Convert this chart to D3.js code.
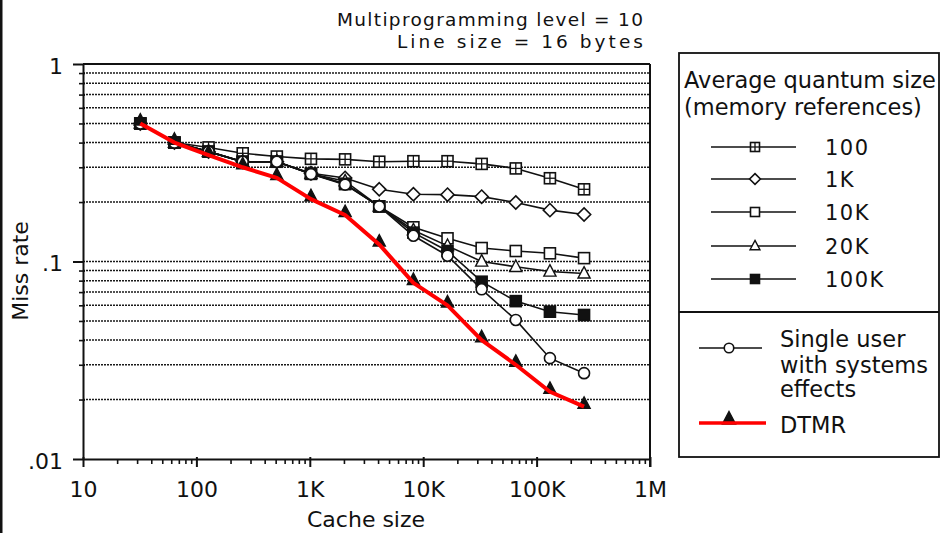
<!DOCTYPE html>
<html><head><meta charset="utf-8">
<script src="https://cdn.jsdelivr.net/npm/d3@7/dist/d3.min.js"></script>
<style>
html,body{margin:0;padding:0;background:#fff;}
svg{display:block;}
text{font-family:"DejaVu Sans",sans-serif;fill:#111;}
</style></head><body>
<svg id="chart" width="941" height="533"></svg>
<script>
// ---------- data ----------
const cacheSizes = [32,64,128,256,512,1024,2048,4096,8192,16384,32768,65536,131072,262144];
const quantum100  = [0.50,0.40,0.378,0.353,0.340,0.331,0.329,0.320,0.322,0.322,0.312,0.296,0.264,0.232];
const quantum1K   = [0.50,0.40,0.36,0.32,0.32,0.28,0.265,0.232,0.219,0.218,0.213,0.199,0.182,0.173];
const quantum10K  = [0.50,0.40,0.36,0.32,0.32,0.278,0.247,0.19,0.149,0.131,0.117,0.113,0.110,0.104];
const quantum20K  = [0.50,0.40,0.36,0.32,0.32,0.278,0.255,0.19,0.144,0.12,0.100,0.094,0.089,0.087];
const quantum100K = [0.50,0.40,0.36,0.32,0.32,0.278,0.247,0.19,0.14,0.113,0.079,0.063,0.0557,0.0536];
const singleUser  = [0.50,0.40,0.36,0.32,0.32,0.277,0.245,0.19,0.135,0.107,0.0723,0.0506,0.0324,0.0272];
const dtmr        = [0.50,0.40,0.346,0.30,0.265,0.207,0.172,0.122,0.078,0.060,0.040,0.030,0.0219,0.0184];

const xTickValues = [10,100,1000,10000,100000,1000000];
const xTickLabels = ["10","100","1K","10K","100K","1M"];
const yTickValues = [0.01,0.1,1];
const yTickLabels = [".01",".1","1"];
const titleLines = ["Multiprogramming level = 10","Line size = 16 bytes"];
const legendTitleLines = ["Average quantum size","(memory references)"];
const quantumNames = ["100","1K","10K","20K","100K"];
const singleUserLabel = ["Single user","with systems","effects"];
const dtmrLabel = "DTMR";
const xAxisTitle = "Cache size";
const yAxisTitle = "Miss rate";

// ---------- setup ----------
const svg = d3.select("#chart");
svg.append("rect").attr("width",941).attr("height",533).attr("fill","#fff");
svg.append("rect").attr("x",0).attr("y",0).attr("width",2.5).attr("height",533).attr("fill","#111");

const L = 83, R = 650, T = 64, B = 459;
const x = d3.scaleLog().domain([10,1e6]).range([L,R]);
const y = d3.scaleLog().domain([0.01,1]).range([B,T]);

// minor values
const minorX = [];
[10,100,1000,10000,100000].forEach(d=>{for(let k=2;k<=9;k++) minorX.push(k*d);});
const minorY = [];
[0.01,0.1].forEach(d=>{for(let k=2;k<=9;k++) minorY.push(+(k*d).toPrecision(3));});
const gridY = minorY.concat([0.1]);

// gridlines
svg.append("g").selectAll("line").data(gridY).join("line")
  .attr("x1",L).attr("x2",R).attr("y1",d=>y(d)).attr("y2",d=>y(d))
  .attr("stroke","#1a1a1a").attr("stroke-width",1.5).attr("stroke-dasharray","2,1");

// x axis: minor ticks
const gxMinor = svg.append("g").attr("transform",`translate(0,${B})`)
  .call(d3.axisBottom(x).tickValues(minorX).tickSize(5).tickSizeOuter(0).tickFormat(""));
gxMinor.select(".domain").remove();
gxMinor.selectAll("line").attr("stroke","#111").attr("stroke-width",1.6);
// x axis: major ticks + labels
const gxMajor = svg.append("g").attr("transform",`translate(0,${B})`)
  .call(d3.axisBottom(x).tickValues(xTickValues).tickSize(8).tickSizeOuter(0)
    .tickFormat((d,i)=>xTickLabels[i]));
gxMajor.select(".domain").attr("stroke","#111").attr("stroke-width",2);
gxMajor.selectAll(".tick line").attr("stroke","#111").attr("stroke-width",2).attr("y1",-2);
gxMajor.selectAll("text").attr("y",38).attr("dy",0)
  .attr("font-size",22).attr("font-family","DejaVu Sans").attr("fill","#111");

// y axis: minor
const gyMinor = svg.append("g").attr("transform",`translate(${L},0)`)
  .call(d3.axisLeft(y).tickValues(minorY).tickSize(5).tickSizeOuter(0).tickFormat(""));
gyMinor.select(".domain").remove();
gyMinor.selectAll("line").attr("stroke","#111").attr("stroke-width",1.6).attr("x2",-4).attr("x1",2);
const gyMajor = svg.append("g").attr("transform",`translate(${L},0)`)
  .call(d3.axisLeft(y).tickValues(yTickValues).tickSize(10).tickSizeOuter(0)
    .tickFormat((d,i)=>yTickLabels[yTickValues.indexOf(d)]));
gyMajor.select(".domain").attr("stroke","#111").attr("stroke-width",2);
gyMajor.selectAll(".tick line").attr("stroke","#111").attr("stroke-width",2);
gyMajor.selectAll("text").attr("x",-20).attr("dy","0.42em")
  .attr("font-size",22).attr("font-family","DejaVu Sans").attr("fill","#111");

// frame top & right
svg.append("line").attr("x1",L).attr("x2",R).attr("y1",T).attr("y2",T).attr("stroke","#111").attr("stroke-width",2);
svg.append("line").attr("x1",R).attr("x2",R).attr("y1",T).attr("y2",B+8).attr("stroke","#111").attr("stroke-width",2);

// ---------- markers ----------
function marker(g, type, cx, cy, s){
  const h = s/2;
  if(type==="sqplus"){
    g.append("rect").attr("x",cx-h).attr("y",cy-h).attr("width",s).attr("height",s)
      .attr("fill","#fff").attr("stroke","#111").attr("stroke-width",1.6);
    g.append("line").attr("x1",cx-h).attr("x2",cx+h).attr("y1",cy).attr("y2",cy).attr("stroke","#111").attr("stroke-width",1.3);
    g.append("line").attr("x1",cx).attr("x2",cx).attr("y1",cy-h).attr("y2",cy+h).attr("stroke","#111").attr("stroke-width",1.3);
  } else if(type==="diamond"){
    const d = s*0.6;
    g.append("path").attr("d",`M${cx},${cy-d}L${cx+d},${cy}L${cx},${cy+d}L${cx-d},${cy}Z`)
      .attr("fill","#fff").attr("stroke","#111").attr("stroke-width",1.6);
  } else if(type==="square" || type==="fsquare"){
    g.append("rect").attr("x",cx-h).attr("y",cy-h).attr("width",s).attr("height",s)
      .attr("fill",type==="square"?"#fff":"#111").attr("stroke","#111").attr("stroke-width",1.6);
  } else if(type==="triangle" || type==="ftriangle"){
    g.append("path").attr("d",`M${cx},${cy-s*0.62}L${cx+s*0.55},${cy+s*0.42}L${cx-s*0.55},${cy+s*0.42}Z`)
      .attr("fill",type==="triangle"?"#fff":"#111").attr("stroke","#111").attr("stroke-width",1.4);
  } else if(type==="circle"){
    g.append("circle").attr("cx",cx).attr("cy",cy).attr("r",h)
      .attr("fill","#fff").attr("stroke","#111").attr("stroke-width",1.6);
  }
}

const series = [
  {name:quantumNames[0], values:quantum100,  type:"sqplus"},
  {name:quantumNames[1], values:quantum1K,   type:"diamond"},
  {name:quantumNames[2], values:quantum10K,  type:"square"},
  {name:quantumNames[3], values:quantum20K,  type:"triangle"},
  {name:quantumNames[4], values:quantum100K, type:"fsquare"},
  {name:"single",        values:singleUser,  type:"circle"}
];

const line = d3.line().x(d=>x(d[0])).y(d=>y(d[1]));
const plot = svg.append("g");
series.forEach(s=>{
  const pts = cacheSizes.map((c,i)=>[c,s.values[i]]);
  plot.append("path").attr("d",line(pts)).attr("fill","none").attr("stroke","#111").attr("stroke-width",1.6);
  const mg = plot.append("g");
  pts.forEach(p=>marker(mg, s.type, x(p[0]), y(p[1]), 11));
});
// DTMR
const dpts = cacheSizes.map((c,i)=>[c,dtmr[i]]);
const dg = plot.append("g");
dpts.forEach(p=>marker(dg,"ftriangle",x(p[0]),y(p[1])-3,11));
plot.append("path").attr("d",line(dpts)).attr("fill","none").attr("stroke","#f00")
  .attr("stroke-width",4).attr("stroke-linejoin","round");

// ---------- titles ----------
svg.append("text").attr("x",643).attr("y",26).attr("text-anchor","end").attr("font-size",18.5)
  .attr("textLength",306).attr("lengthAdjust","spacing").text(titleLines[0]);
svg.append("text").attr("x",643).attr("y",48).attr("text-anchor","end").attr("font-size",18.5)
  .attr("textLength",246).attr("lengthAdjust","spacing").text(titleLines[1]);
svg.append("text").attr("x",307).attr("y",527).attr("font-size",22).text(xAxisTitle);
svg.append("text").attr("transform","translate(28,271) rotate(-90)").attr("text-anchor","middle")
  .attr("font-size",22).text(yAxisTitle);

// ---------- legend ----------
const lg = svg.append("g");
lg.append("rect").attr("x",679).attr("y",53).attr("width",260).attr("height",404)
  .attr("fill","none").attr("stroke","#111").attr("stroke-width",1.8);
lg.append("line").attr("x1",679).attr("x2",939).attr("y1",312).attr("y2",312).attr("stroke","#111").attr("stroke-width",1.8);
lg.append("text").attr("x",684).attr("y",88).attr("font-size",22.5).text(legendTitleLines[0]);
lg.append("text").attr("x",684).attr("y",115).attr("font-size",22.5).text(legendTitleLines[1]);
const rowY = [147,179,212,246,279];
series.slice(0,5).forEach((s,i)=>{
  lg.append("line").attr("x1",711).attr("x2",796).attr("y1",rowY[i]).attr("y2",rowY[i]).attr("stroke","#111").attr("stroke-width",1.6);
  marker(lg, s.type, 755, rowY[i], 9);
  lg.append("text").attr("x",825).attr("y",rowY[i]+8).attr("font-size",21).attr("letter-spacing",1.5).text(s.name);
});
lg.append("line").attr("x1",699).attr("x2",762).attr("y1",348).attr("y2",348).attr("stroke","#111").attr("stroke-width",1.6);
marker(lg,"circle",729,348,9.5);
singleUserLabel.forEach((t,i)=>{
  lg.append("text").attr("x",780).attr("y",[347,373,397][i]).attr("font-size",22.5).text(t);
});
marker(lg,"ftriangle",729,419,12);
lg.append("line").attr("x1",699).attr("x2",766).attr("y1",423).attr("y2",423).attr("stroke","#f00").attr("stroke-width",3.5);
lg.append("text").attr("x",780).attr("y",433).attr("font-size",22.5).text(dtmrLabel);
</script>
</body></html>
